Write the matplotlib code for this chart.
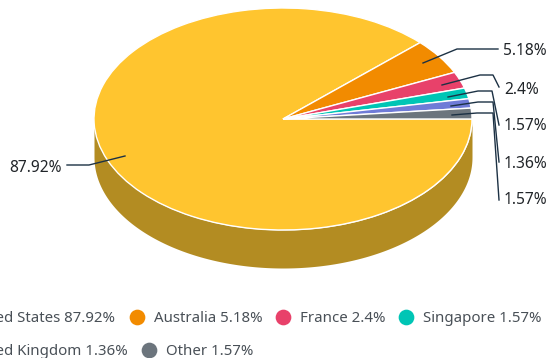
import matplotlib
matplotlib.use("Agg")
import matplotlib.pyplot as plt
import numpy as np

plt.rcParams['font.family'] = ['Noto Sans', 'DejaVu Sans']

# clockwise from the big slice
countries = ["United States", "Australia", "France", "Singapore", "United Kingdom", "Other"]
shares = [87.92, 5.18, 2.4, 1.57, 1.36, 1.57]
colors = ["#ffc52f", "#f28b00", "#e8416a", "#00c5b5", "#6f7bd7", "#6c757d"]
wall_color = "#b38c22"

W, H = 556, 358
fig = plt.figure(figsize=(W / 100, H / 100), dpi=100)

# full size axes in pixel units for the wall
bg = fig.add_axes([0, 0, 1, 1])
bg.set_xlim(0, W)
bg.set_ylim(H, 0)
bg.axis("off")

cx, cy, rx, ry, depth = 283, 119, 189, 111, 38

# side wall of the disc
t = np.linspace(0, np.pi, 200)
ex = cx + rx * np.cos(t)
ey = cy + ry * np.sin(t)
bg.fill_between(ex, ey, ey + depth, color=wall_color, lw=0, zorder=1)

# top face, the axes box is stretched so the pie comes out elliptical
pie_ax = fig.add_axes([(cx - rx) / W, 1 - (cy + ry) / H, 2 * rx / W, 2 * ry / H], zorder=2)
pie_ax.pie(shares, colors=colors, startangle=0, counterclock=False, radius=1,
           wedgeprops=dict(edgecolor="white", linewidth=1))
pie_ax.set_aspect("auto")
pie_ax.set_xlim(-1, 1)
pie_ax.set_ylim(-1, 1)
pie_ax.patch.set_alpha(0)

# leaders on their own layer above the pie
top = fig.add_axes([0, 0, 1, 1], zorder=3)
top.set_xlim(0, W)
top.set_ylim(H, 0)
top.axis("off")

leaders = [
    ([125, 89, 67], [156, 165, 165]),
    ([423, 457, 498], [63, 49, 49]),
    ([442, 480, 493, 499], [85, 75, 75, 87]),
    ([448, 478, 492, 499], [97, 91, 91, 125]),
    ([451, 478, 493, 499], [106, 102, 102, 162]),
    ([452, 477, 493, 499], [115, 113, 113, 200]),
]
label_pos = [(62, 168, "right"), (503, 51, "left"), (504, 89.5, "left"),
             (504, 126.5, "left"), (504, 163.5, "left"), (504, 200.5, "left")]

for v, (xs, ys), (lx, ly, ha) in zip(shares, leaders, label_pos):
    top.plot(xs, ys, color="#1c3144", lw=1, solid_joinstyle="round")
    top.text(lx, ly, f"{v:g}%", ha=ha, va="center", fontsize=11.2, color="#212529")

# legend, the first column runs off the left edge
legend_text = "#495057"
legend_size = 10.8
top.text(115, 318.5, f"{countries[0]} {shares[0]:g}%", ha="right", va="center",
         fontsize=legend_size, color=legend_text)
top.text(127.5, 351.5, f"{countries[4]} {shares[4]:g}%", ha="right", va="center",
         fontsize=legend_size, color=legend_text)
for i, mx, my in [(1, 137, 317), (2, 283, 317), (3, 406, 317), (5, 149, 350)]:
    top.plot([mx], [my], "o", ms=11.3, color=colors[i], mew=0)
    top.text(mx + 17, my + 1.5, f"{countries[i]} {shares[i]:g}%", ha="left", va="center",
             fontsize=legend_size, color=legend_text)

fig.savefig("out.png", dpi=100)
